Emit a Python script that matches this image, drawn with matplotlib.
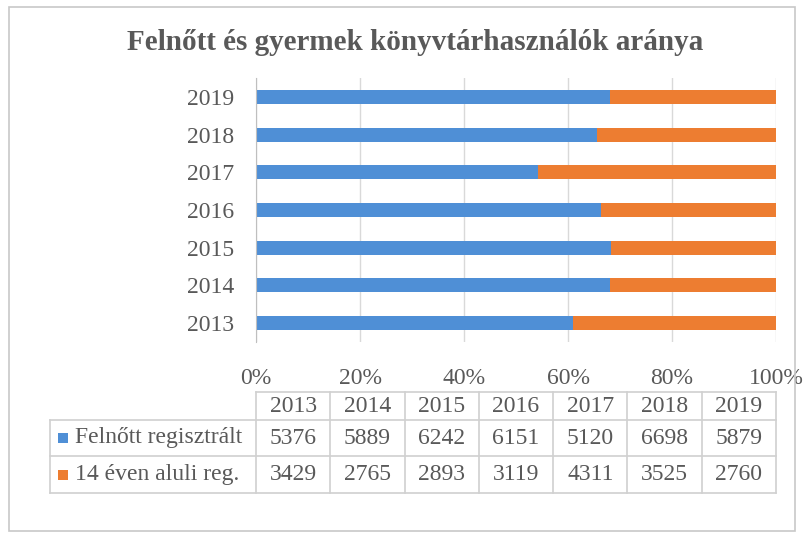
import matplotlib.pyplot as plt
import numpy as np
from matplotlib.patches import Rectangle
from matplotlib.lines import Line2D

plt.rcParams['font.family'] = ['Liberation Serif', 'DejaVu Serif']

years = ['2013', '2014', '2015', '2016', '2017', '2018', '2019']
felnott = [5376, 5889, 6242, 6151, 5120, 6698, 5879]
gyermek = [3429, 2765, 2893, 3119, 4311, 3525, 2760]
series_names = ['Felnőtt regisztrált', '14 éven aluli reg.']
title = 'Felnőtt és gyermek könyvtárhasználók aránya'

blue = '#4F8FD6'
orange = '#ED7D31'
text_col = '#595959'
grid_col = '#D9D9D9'
fs = 17

W, H = 812, 547
fig = plt.figure(figsize=(W / 100, H / 100), dpi=100)

def fx(px):
    return px / W

def fy(py):
    return 1 - py / H

# outer chart frame
fig.add_artist(Rectangle((fx(9), fy(531)), fx(786), 524 / H, transform=fig.transFigure,
                         fill=False, edgecolor='#C8C8C8', linewidth=1.2))

fig.text(fx(415), fy(42), title, ha='center', va='center', fontsize=21,
         fontweight='bold', color=text_col)

# 100% stacked bars
ax = fig.add_axes([fx(256), fy(342), fx(776) - fx(256), (342 - 78) / H])
f = np.array(felnott, dtype=float)
g = np.array(gyermek, dtype=float)
tot = f + g
y = np.arange(len(years))
ax.barh(y, f / tot, height=0.37, color=blue)
ax.barh(y, g / tot, left=f / tot, height=0.37, color=orange)

ax.set_xlim(0, 1)
ax.set_ylim(-0.5, len(years) - 0.5)
ax.set_xticks(np.arange(0, 1.01, 0.2))
ax.set_xticklabels([f'{int(round(v * 100))}%' for v in np.arange(0, 1.01, 0.2)])
ax.set_yticks(y)
ax.set_yticklabels(years)
ax.tick_params(axis='both', length=0, labelsize=fs, colors=text_col)
ax.tick_params(axis='x', pad=19)
ax.tick_params(axis='y', pad=16)
ax.xaxis.grid(True, color=grid_col, linewidth=1)
ax.set_axisbelow(True)
for s in ['top', 'right', 'bottom']:
    ax.spines[s].set_visible(False)
ax.spines['left'].set_color('#BFBFBF')

# data table below the axis
x0, x1 = 256, 776
col_w = (x1 - x0) / len(years)
lbl_left = 50
row_edges = [392, 420, 456, 493]
line_kw = dict(transform=fig.transFigure, color='#D0D0D0', linewidth=1.2)

# horizontal lines
fig.add_artist(Line2D([fx(x0), fx(x1)], [fy(row_edges[0])] * 2, **line_kw))
for r in row_edges[1:]:
    fig.add_artist(Line2D([fx(lbl_left), fx(x1)], [fy(r)] * 2, **line_kw))
# vertical lines
for i in range(len(years) + 1):
    xv = x0 + i * col_w
    fig.add_artist(Line2D([fx(xv)] * 2, [fy(row_edges[0]), fy(row_edges[-1])], **line_kw))
fig.add_artist(Line2D([fx(lbl_left)] * 2, [fy(row_edges[1]), fy(row_edges[-1])], **line_kw))

for i, yr in enumerate(years):
    cx = x0 + (i + 0.5) * col_w
    fig.text(fx(cx), fy((row_edges[0] + row_edges[1]) / 2), yr, ha='center', va='center',
             fontsize=fs, color=text_col)
    fig.text(fx(cx), fy((row_edges[1] + row_edges[2]) / 2), str(felnott[i]), ha='center',
             va='center', fontsize=fs, color=text_col)
    fig.text(fx(cx), fy((row_edges[2] + row_edges[3]) / 2), str(gyermek[i]), ha='center',
             va='center', fontsize=fs, color=text_col)

for k, (name, col) in enumerate(zip(series_names, [blue, orange])):
    cy = (row_edges[k + 1] + row_edges[k + 2]) / 2
    fig.add_artist(Rectangle((fx(58), fy(cy + 5)), fx(10), 10 / H, transform=fig.transFigure,
                             facecolor=col, edgecolor='none'))
    fig.text(fx(75), fy(cy), name, ha='left', va='center', fontsize=fs, color=text_col)

fig.savefig('out.png', dpi=100)
